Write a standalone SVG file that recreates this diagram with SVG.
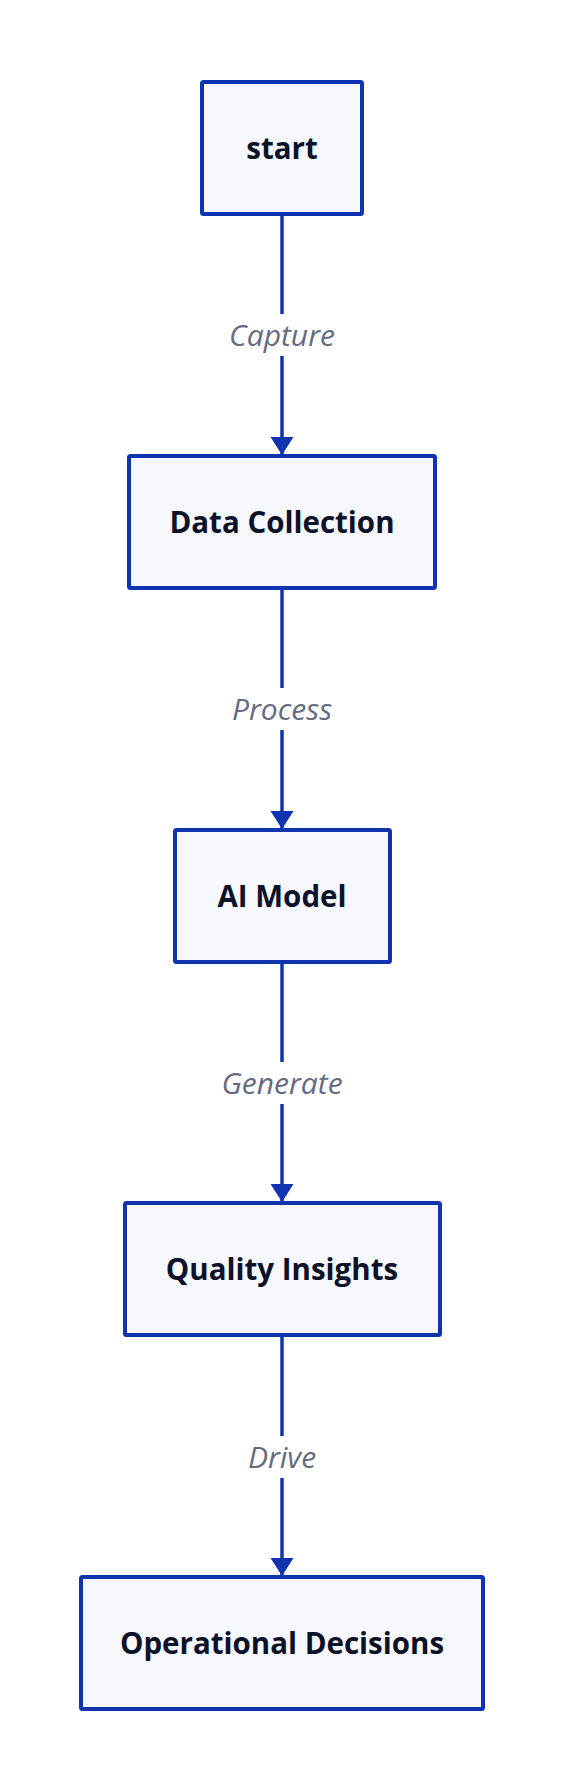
<svg xmlns="http://www.w3.org/2000/svg" width="564" height="1792" viewBox="0 0 564 1792">
  <style>
    .node rect { fill: #f6f8fd; stroke: #1034b0; stroke-width: 4; }
    .node text { font-family: "Open Sans", "Noto Sans", "Liberation Sans", sans-serif; font-weight: 700; font-size: 29.5px; fill: #0d1229; text-anchor: middle; }
    .edge { stroke: #1034b0; stroke-width: 3.5; fill: none; }
    .lbl-bg { fill: #ffffff; }
    .lbl { font-family: "Open Sans", "Noto Sans", "Liberation Sans", sans-serif; font-style: italic; font-size: 30px; fill: #646b82; text-anchor: middle; }
  </style>
  <defs>
    <marker id="arrow" viewBox="0 0 18 23" refX="18" refY="11.5" markerWidth="18" markerHeight="23" markerUnits="userSpaceOnUse" orient="auto">
      <path d="M0,0 L18,11.5 L0,23 z" fill="#1034b0"/>
    </marker>
  </defs>
  <rect width="564" height="1792" fill="#ffffff"/>
  <g id="connectors">
    <line class="edge" x1="282" y1="216" x2="282" y2="455" marker-end="url(#arrow)"/>
    <line class="edge" x1="282" y1="590" x2="282" y2="829" marker-end="url(#arrow)"/>
    <line class="edge" x1="282" y1="964" x2="282" y2="1202" marker-end="url(#arrow)"/>
    <line class="edge" x1="282" y1="1337" x2="282" y2="1576" marker-end="url(#arrow)"/>
    <g id="label-capture">
      <rect class="lbl-bg" x="226" y="314" width="112" height="42"/>
      <text class="lbl" x="282" y="346">Capture</text>
    </g>
    <g id="label-process">
      <rect class="lbl-bg" x="226" y="688" width="112" height="42"/>
      <text class="lbl" x="282" y="720">Process</text>
    </g>
    <g id="label-generate">
      <rect class="lbl-bg" x="218" y="1062" width="128" height="42"/>
      <text class="lbl" x="282" y="1094">Generate</text>
    </g>
    <g id="label-drive">
      <rect class="lbl-bg" x="244" y="1436" width="76" height="42"/>
      <text class="lbl" x="282" y="1468">Drive</text>
    </g>
  </g>
  <g id="node-start" class="node">
    <rect x="202" y="82" width="160" height="132" rx="1.5"/>
    <text x="282" y="159">start</text>
  </g>
  <g id="node-data-collection" class="node">
    <rect x="129" y="456" width="306" height="132" rx="1.5"/>
    <text x="282" y="533">Data Collection</text>
  </g>
  <g id="node-ai-model" class="node">
    <rect x="175" y="830" width="215" height="132" rx="1.5"/>
    <text x="282" y="907">AI Model</text>
  </g>
  <g id="node-quality-insights" class="node">
    <rect x="125" y="1203" width="315" height="132" rx="1.5"/>
    <text x="282" y="1280">Quality Insights</text>
  </g>
  <g id="node-operational-decisions" class="node">
    <rect x="81" y="1577" width="402" height="132" rx="1.5"/>
    <text x="282" y="1654">Operational Decisions</text>
  </g>
</svg>
